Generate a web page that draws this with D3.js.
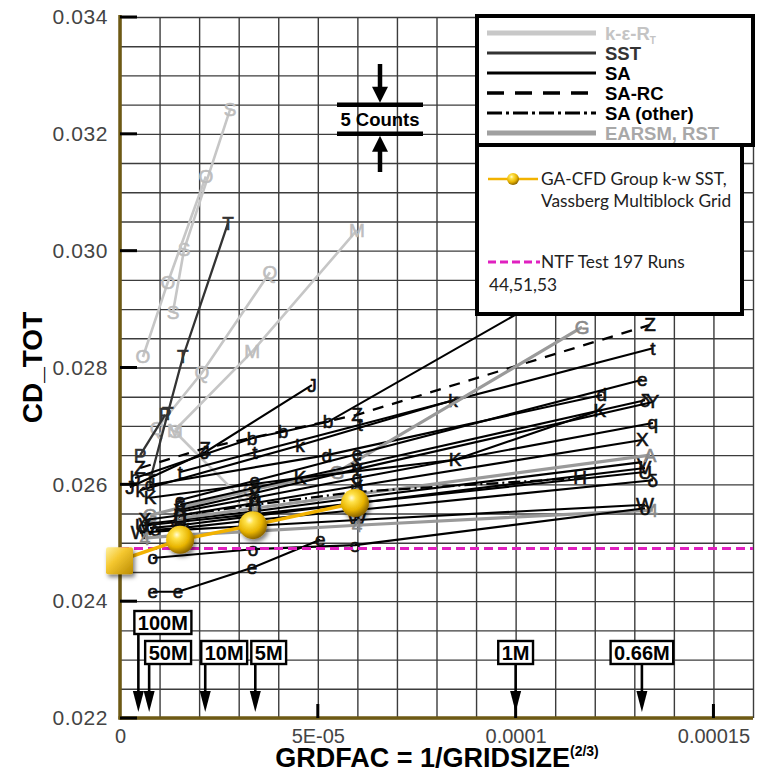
<!DOCTYPE html>
<html>
<head>
<meta charset="utf-8">
<script src="https://cdn.jsdelivr.net/npm/d3@7"></script>
<style>
  body { margin: 0; background: #fff; }
  svg { display: block; font-family: "Liberation Sans", Arial, sans-serif; }
</style>
</head>
<body>
<svg id="chart" width="769" height="773"></svg>
<script>
// ---- values ----
const xTicks = [0, 5e-5, 1e-4, 1.5e-4];
const xTickLabels = ["0", "5E-05", "0.0001", "0.00015"];
const yTicks = [0.022, 0.024, 0.026, 0.028, 0.030, 0.032, 0.034];

const modelNames = ["k-ε-R", "SST", "SA", "SA-RC", "SA (other)", "EARSM, RST"];

// one entry per participant curve
const seriesMark  = ["S", "O", "Q", "M", "S", "T", "P", "J", "b", "Z", "t", "k", "d", "G", "e",
                     "K", "δ", "Y", "q", "X", "V", "A", "U", "V", "H", "δ", "W", "4", "o", "e"];
const seriesModel = [0, 0, 0, 0, 0, 1, 1, 2, 2, 3, 2, 2, 2, 5, 2,
                     2, 2, 2, 2, 2, 2, 5, 2, 2, 4, 2, 2, 5, 2, 2];
const seriesX = [
  [1.34e-5, 1.62e-5, 2.78e-5],
  [0.58e-5, 1.21e-5, 2.17e-5],
  [0.94e-5, 2.07e-5, 3.79e-5],
  [1.39e-5, 3.34e-5, 5.99e-5],
  [1.39e-5, 3.11e-5],
  [0.76e-5, 1.21e-5, 1.59e-5, 2.73e-5],
  [0.51e-5, 1.14e-5],
  [0.25e-5, 2.15e-5, 4.85e-5],
  [0.38e-5, 3.34e-5, 4.12e-5, 5.26e-5, 13.27e-5],
  [0.51e-5, 2.15e-5, 5.99e-5, 13.40e-5],
  [1.52e-5, 3.41e-5, 6.07e-5, 13.47e-5],
  [0.51e-5, 4.55e-5, 8.42e-5],
  [0.76e-5, 5.23e-5, 12.18e-5],
  [0.76e-5, 3.29e-5, 5.49e-5, 11.68e-5],
  [1.52e-5, 3.41e-5, 5.99e-5, 13.20e-5],
  [0.76e-5, 4.55e-5, 8.47e-5, 12.13e-5],
  [1.52e-5, 3.41e-5, 5.99e-5, 13.27e-5],
  [1.52e-5, 3.41e-5, 5.99e-5, 13.47e-5],
  [1.52e-5, 3.41e-5, 5.99e-5, 13.47e-5],
  [0.63e-5, 1.52e-5, 3.41e-5, 5.99e-5, 13.20e-5],
  [0.63e-5, 1.52e-5, 3.41e-5, 5.99e-5, 13.20e-5],
  [1.52e-5, 3.41e-5, 5.99e-5, 13.40e-5],
  [0.55e-5, 1.52e-5, 3.41e-5, 5.99e-5, 13.27e-5],
  [0.76e-5, 1.52e-5, 3.41e-5, 5.99e-5, 13.27e-5],
  [1.52e-5, 3.41e-5, 5.99e-5, 11.63e-5],
  [0.90e-5, 1.52e-5, 3.41e-5, 5.99e-5, 13.47e-5],
  [0.50e-5, 1.52e-5, 3.41e-5, 5.99e-5, 13.27e-5],
  [0.63e-5, 1.52e-5, 3.41e-5, 5.99e-5, 13.47e-5],
  [0.83e-5, 3.36e-5, 5.94e-5, 13.27e-5],
  [0.83e-5, 1.47e-5, 3.34e-5, 5.06e-5]
];
const seriesCD = [
  [0.02895, 0.03002, 0.03241],
  [0.02818, 0.02946, 0.03127],
  [0.02696, 0.02791, 0.02963],
  [0.02693, 0.02827, 0.03035],
  [0.02690, 0.02573],
  [0.02607, 0.02722, 0.02818, 0.03047],
  [0.02650, 0.02719],
  [0.02595, 0.02655, 0.02770],
  [0.02611, 0.02679, 0.02690, 0.02707, 0.03017],
  [0.02628, 0.02662, 0.02719, 0.02873],
  [0.02621, 0.02655, 0.02702, 0.02833],
  [0.02590, 0.02667, 0.02744],
  [0.02599, 0.02650, 0.02753],
  [0.02547, 0.02590, 0.02621, 0.02869],
  [0.02573, 0.02606, 0.02652, 0.02779],
  [0.02577, 0.02611, 0.02642, 0.02727],
  [0.02565, 0.02594, 0.02633, 0.02744],
  [0.02556, 0.02585, 0.02626, 0.02741],
  [0.02553, 0.02577, 0.02611, 0.02705],
  [0.02539, 0.02547, 0.02568, 0.02597, 0.02676],
  [0.02532, 0.02539, 0.02554, 0.02577, 0.02638],
  [0.02542, 0.02559, 0.02583, 0.02650],
  [0.02529, 0.02536, 0.02549, 0.02568, 0.02621],
  [0.02525, 0.02530, 0.02546, 0.02568, 0.02628],
  [0.02547, 0.02565, 0.02587, 0.02611],
  [0.02522, 0.02525, 0.02539, 0.02556, 0.02607],
  [0.02517, 0.02522, 0.02529, 0.02539, 0.02565],
  [0.02508, 0.02513, 0.02520, 0.02530, 0.02556],
  [0.02474, 0.02489, 0.02496, 0.02559],
  [0.02416, 0.02416, 0.02457, 0.02505]
];

// GA-CFD Group k-w SST on the Vassberg multiblock grid
const gaX  = [0, 1.52e-5, 3.36e-5, 5.94e-5];
const gaCD = [0.02470, 0.02505, 0.02530, 0.02568];
// NTF test 197
const ntfCD = 0.02490;

// grid size markers, GRDFAC = N^(-2/3)
const gridLabels = ["100M", "50M", "10M", "5M", "1M", "0.66M"];
const gridCells  = [100e6, 50e6, 10e6, 5e6, 1e6, 0.66e6];

const countsLow = 0.0320, countsHigh = 0.0325;

// ---- drawing ----
const svg = d3.select("#chart");
const L = 120, R = 753, T = 17, B = 718;
const x = d3.scaleLinear().domain([0, 1.6e-4]).range([L, R]);
const y = d3.scaleLinear().domain([0.022, 0.034]).range([B, T]);

const styles = [
  {stroke: "#c6c6c6", w: 2.6, dash: null, mark: "#bdbdbd"},
  {stroke: "#333333", w: 2.3, dash: null, mark: "#333"},
  {stroke: "#000000", w: 2.1, dash: null, mark: "#111"},
  {stroke: "#000000", w: 2.3, dash: "11,9", mark: "#111"},
  {stroke: "#000000", w: 2.3, dash: "12,4,2,4", mark: "#111"},
  {stroke: "#9a9a9a", w: 3.2, dash: null, mark: "#8a8a8a"}
];

const defs = svg.append("defs");
defs.append("clipPath").attr("id", "plot")
  .append("rect").attr("x", L).attr("y", T).attr("width", R - L).attr("height", B - T);
const ball = defs.append("radialGradient").attr("id", "ball")
  .attr("cx", "38%").attr("cy", "32%").attr("r", "68%");
[["0%", "#fffbd8"], ["22%", "#ffe24a"], ["65%", "#e8b400"], ["100%", "#8f6800"]]
  .forEach(s => ball.append("stop").attr("offset", s[0]).attr("stop-color", s[1]));
const sq = defs.append("linearGradient").attr("id", "sq")
  .attr("x1", "0").attr("y1", "0").attr("x2", "1").attr("y2", "1");
[["0%", "#fff1a0"], ["40%", "#f5c830"], ["100%", "#b98a00"]]
  .forEach(s => sq.append("stop").attr("offset", s[0]).attr("stop-color", s[1]));
const sh = defs.append("filter").attr("id", "shadow").attr("x", "-50%").attr("y", "-50%")
  .attr("width", "200%").attr("height", "200%");
sh.append("feDropShadow").attr("dx", 2).attr("dy", 3).attr("stdDeviation", 2)
  .attr("flood-color", "#000").attr("flood-opacity", 0.5);

// grid
svg.append("g").attr("transform", `translate(0,${B})`)
  .call(d3.axisBottom(x).tickValues(d3.range(0, 17).map(i => i * 1e-5)).tickSize(-(B - T)).tickFormat(""))
  .call(g => g.select(".domain").remove())
  .call(g => g.selectAll("line").attr("stroke", "#3c3c3c").attr("stroke-width", 1.4));
svg.append("g").attr("transform", `translate(${L},0)`)
  .call(d3.axisLeft(y).tickValues(d3.range(0, 25).map(i => 0.022 + i * 0.0005)).tickSize(-(R - L)).tickFormat(""))
  .call(g => g.select(".domain").remove())
  .call(g => g.selectAll("line").attr("stroke", "#3c3c3c").attr("stroke-width", 1.4));

// tick labels
svg.append("g").attr("transform", `translate(${L - 9},0)`)
  .call(d3.axisLeft(y).tickValues(yTicks).tickSize(0).tickFormat(d3.format(".3f")))
  .call(g => g.select(".domain").remove())
  .call(g => g.selectAll("text").attr("fill", "#444").style("font-size", "21px")
    .style("font-family", "'Liberation Sans', Arial, sans-serif").attr("letter-spacing", "0.6"));
svg.append("g").attr("transform", `translate(0,${B + 8})`)
  .call(d3.axisBottom(x).tickValues(xTicks).tickSize(0).tickFormat((d, i) => xTickLabels[i]))
  .call(g => g.select(".domain").remove())
  .call(g => g.selectAll("text").attr("fill", "#444").style("font-size", "20px")
    .style("font-family", "'Liberation Sans', Arial, sans-serif"));

// series
const line = d3.line().x(d => x(d[0])).y(d => y(d[1]));
const plot = svg.append("g").attr("clip-path", "url(#plot)");
seriesX.forEach((xs, i) => {
  const st = styles[seriesModel[i]];
  const pts = xs.map((v, j) => [v, seriesCD[i][j]]);
  plot.append("path").attr("d", line(pts)).attr("fill", "none")
    .attr("stroke", st.stroke).attr("stroke-width", st.w)
    .attr("stroke-dasharray", st.dash);
  plot.selectAll(null).data(pts).enter().append("text")
    .attr("x", d => x(d[0])).attr("y", d => y(d[1]))
    .attr("text-anchor", "middle").attr("dominant-baseline", "central")
    .attr("fill", st.mark).attr("stroke", st.mark).attr("stroke-width", 0.6)
    .style("font-size", "19px")
    .text(seriesMark[i]);
});

// axes lines + major ticks
svg.append("line").attr("x1", L).attr("x2", L).attr("y1", T - 2).attr("y2", B + 1.5)
  .attr("stroke", "#6e5a14").attr("stroke-width", 3.5);
svg.append("line").attr("x1", L - 1.5).attr("x2", R).attr("y1", B).attr("y2", B)
  .attr("stroke", "#6e5a14").attr("stroke-width", 3.5);
svg.selectAll(null).data(yTicks).enter().append("line")
  .attr("x1", L).attr("x2", L + 17).attr("y1", d => y(d)).attr("y2", d => y(d))
  .attr("stroke", "#000").attr("stroke-width", 3);
svg.selectAll(null).data(xTicks.slice(1)).enter().append("line")
  .attr("x1", d => x(d)).attr("x2", d => x(d)).attr("y1", B).attr("y2", B - 14)
  .attr("stroke", "#000").attr("stroke-width", 3);

// NTF test line
svg.append("line").attr("x1", L).attr("x2", R).attr("y1", y(ntfCD)).attr("y2", y(ntfCD))
  .attr("stroke", "#e020c0").attr("stroke-width", 3).attr("stroke-dasharray", "9,5");

// GA-CFD series
const ga = gaX.map((v, i) => [v, gaCD[i]]);
svg.append("path").attr("d", line(ga)).attr("fill", "none")
  .attr("stroke", "#f2b200").attr("stroke-width", 3.5);
svg.append("rect").attr("x", x(ga[0][0]) - 14).attr("y", y(ga[0][1]) - 13)
  .attr("width", 27).attr("height", 27).attr("rx", 2)
  .attr("fill", "url(#sq)").attr("filter", "url(#shadow)");
svg.selectAll(null).data(ga.slice(1)).enter().append("circle")
  .attr("cx", d => x(d[0])).attr("cy", d => y(d[1])).attr("r", 14)
  .attr("fill", "url(#ball)").attr("filter", "url(#shadow)");

// grid size arrows
const arrowTip = B - 6;
gridCells.forEach((n, i) => {
  const ax = x(Math.pow(n, -2 / 3));
  const top = i === 0 ? 611 : 641;
  const centred = i >= 4;
  const g = svg.append("g");
  const t = g.append("text").attr("font-weight", "bold").style("font-size", "20px")
    .attr("y", top + 19).text(gridLabels[i]);
  const w = t.node().getComputedTextLength() + 7;
  const bx = centred ? ax - w / 2 : ax - 4;
  t.attr("x", bx + 3.5);
  g.insert("rect", "text").attr("x", bx).attr("y", top).attr("width", w).attr("height", 23)
    .attr("fill", "#fff").attr("stroke", "#000").attr("stroke-width", 2.4);
  g.append("line").attr("x1", ax).attr("x2", ax).attr("y1", top + 23).attr("y2", arrowTip - 14)
    .attr("stroke", "#000").attr("stroke-width", 2.6);
  g.append("path").attr("d", `M${ax - 5.5},${arrowTip - 21}L${ax + 5.5},${arrowTip - 21}L${ax},${arrowTip}Z`)
    .attr("fill", "#000");
});

// 5 counts annotation
const cx = 380;
[countsHigh, countsLow].forEach(v => {
  svg.append("line").attr("x1", 337).attr("x2", 423).attr("y1", y(v)).attr("y2", y(v))
    .attr("stroke", "#000").attr("stroke-width", 4.5);
});
svg.append("line").attr("x1", cx).attr("x2", cx).attr("y1", 64).attr("y2", y(countsHigh) - 12)
  .attr("stroke", "#000").attr("stroke-width", 4.5);
svg.append("path").attr("d", `M${cx - 8},${y(countsHigh) - 18}L${cx + 8},${y(countsHigh) - 18}L${cx},${y(countsHigh) - 2}Z`);
svg.append("line").attr("x1", cx).attr("x2", cx).attr("y1", 172).attr("y2", y(countsLow) + 12)
  .attr("stroke", "#000").attr("stroke-width", 4.5);
svg.append("path").attr("d", `M${cx - 8},${y(countsLow) + 18}L${cx + 8},${y(countsLow) + 18}L${cx},${y(countsLow) + 2}Z`);
svg.append("text").attr("x", cx).attr("y", (y(countsHigh) + y(countsLow)) / 2 + 6.5)
  .attr("text-anchor", "middle").attr("font-weight", "bold").style("font-size", "18.5px").text("5 Counts");

// model legend
const lg = svg.append("g");
lg.append("rect").attr("x", 477).attr("y", 16).attr("width", 276).attr("height", 129)
  .attr("fill", "#fff").attr("stroke", "#000").attr("stroke-width", 4);
const legStyles = [
  {stroke: "#c8c8c8", w: 5, dash: null, text: "#c4c4c4"},
  {stroke: "#333", w: 3, dash: null, text: "#333"},
  {stroke: "#000", w: 3, dash: null, text: "#000"},
  {stroke: "#000", w: 3.5, dash: "17,11", text: "#000"},
  {stroke: "#000", w: 3, dash: "15,4,3,4", text: "#000"},
  {stroke: "#a0a0a0", w: 5, dash: null, text: "#a8a8a8"}
];
modelNames.forEach((m, i) => {
  const ly = 33 + i * 20;
  const s = legStyles[i];
  lg.append("line").attr("x1", 487).attr("x2", 596).attr("y1", ly).attr("y2", ly)
    .attr("stroke", s.stroke).attr("stroke-width", s.w).attr("stroke-dasharray", s.dash);
  const t = lg.append("text").attr("x", 605).attr("y", ly + 6.5).attr("font-weight", "bold")
    .style("font-size", "18.5px").attr("fill", s.text).text(m);
  if (i === 0) t.append("tspan").attr("dy", 4).style("font-size", "10px").text("T");
});

// CFD / test legend
const lg2 = svg.append("g").style("font-family", "Lato, 'Open Sans', sans-serif");
lg2.append("rect").attr("x", 477).attr("y", 145).attr("width", 265).attr("height", 169)
  .attr("fill", "#fff").attr("stroke", "#000").attr("stroke-width", 4);
lg2.append("line").attr("x1", 488).attr("x2", 538).attr("y1", 179).attr("y2", 179)
  .attr("stroke", "#f2b200").attr("stroke-width", 2.5);
lg2.append("circle").attr("cx", 513).attr("cy", 179).attr("r", 6).attr("fill", "url(#ball)");
lg2.append("text").attr("x", 541).attr("y", 185).style("font-size", "17.3px").attr("fill", "#222")
  .text("GA-CFD Group k-w SST,");
lg2.append("text").attr("x", 541).attr("y", 207).style("font-size", "17.3px").attr("fill", "#222")
  .text("Vassberg Multiblock Grid");
lg2.append("line").attr("x1", 488).attr("x2", 540).attr("y1", 262).attr("y2", 262)
  .attr("stroke", "#e020c0").attr("stroke-width", 3).attr("stroke-dasharray", "8,4");
lg2.append("text").attr("x", 541).attr("y", 268).style("font-size", "17.3px").attr("fill", "#222")
  .text("NTF Test 197 Runs");
lg2.append("text").attr("x", 489).attr("y", 291).style("font-size", "17.3px").attr("fill", "#222")
  .text("44,51,53");

// axis titles
svg.append("text").attr("transform", `translate(42,${(T + B) / 2}) rotate(-90)`)
  .attr("text-anchor", "middle").attr("font-weight", "bold").style("font-size", "28px").text("CD_TOT");
const xt = svg.append("text").attr("x", 437).attr("y", 767).attr("text-anchor", "middle")
  .attr("font-weight", "bold").style("font-size", "27px").text("GRDFAC = 1/GRIDSIZE");
xt.append("tspan").attr("dy", -11).style("font-size", "14px").text("(2/3)");
</script>
</body>
</html>
